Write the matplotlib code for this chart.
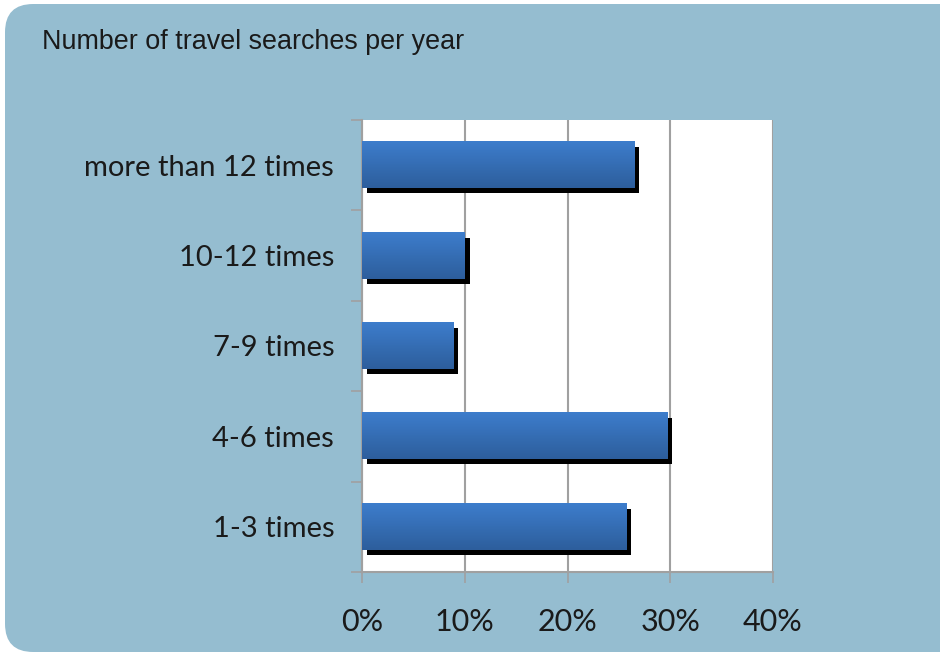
import numpy as np
import matplotlib.pyplot as plt
from matplotlib.patches import FancyBboxPatch
from matplotlib.colors import LinearSegmentedColormap
from matplotlib import transforms

# survey answers, bottom to top
categories = ["1-3 times", "4-6 times", "7-9 times", "10-12 times", "more than 12 times"]
shares = [25.7, 29.7, 8.9, 10.0, 26.5]
xticks = [0, 10, 20, 30, 40]
xticklabels = ["0%", "10%", "20%", "30%", "40%"]

panel_color = "#95bdd0"
grid_color = "#a0a0a0"
label_font = ["Lato", "DejaVu Sans"]

fig = plt.figure(figsize=(9.4, 6.56), dpi=100)
fig.patch.set_facecolor("white")

# rounded light blue panel behind everything
panel = FancyBboxPatch((5 / 940, 4 / 656), 1.2, 648 / 656,
                       boxstyle="round,pad=0,rounding_size=0.03",
                       transform=fig.transFigure, facecolor=panel_color,
                       edgecolor="none", zorder=-10, mutation_aspect=940 / 656)
fig.patches.append(panel)

fig.text(42 / 940, 1 - 42 / 656, "Number of travel searches per year",
         fontsize=19.4, family=["Liberation Sans Narrow", "Liberation Sans", "DejaVu Sans"],
         va="center", ha="left", color="#1a1a1a")

ax = fig.add_axes([362 / 940, 1 - 572 / 656, 411 / 940, 452 / 656])
ax.set_facecolor("white")

ypos = np.arange(len(categories))
bar_h = 0.51

# drop shadow: same bars shifted a few pixels right and down
shadow_tf = ax.transData + transforms.ScaledTranslation(5 / 100, -5 / 100, fig.dpi_scale_trans)
ax.barh(ypos, shares, height=bar_h, color="black", transform=shadow_tf, zorder=3)

# vertical gradient fill for each bar, lighter on top
grad = np.linspace(0, 1, 64).reshape(-1, 1)
cmap = LinearSegmentedColormap.from_list("bar", ["#3d7dcc", "#2d5e9c"])
bars = ax.barh(ypos, shares, height=bar_h, color="none", zorder=4)
for b in bars:
    x0, y0 = b.get_x(), b.get_y()
    w, h = b.get_width(), b.get_height()
    ax.imshow(grad, cmap=cmap, aspect="auto", extent=(x0, x0 + w, y0, y0 + h),
              origin="upper", zorder=4, interpolation="bilinear")
ax.set_xlim(0, 40)
ax.set_ylim(-0.5, len(categories) - 0.5)

ax.set_xticks(xticks)
ax.set_xticklabels(xticklabels, fontsize=22, family=label_font, color="#1a1a1a")
ax.set_yticks(ypos)
ax.set_yticklabels(categories, fontsize=21, family=label_font, color="#1a1a1a")
ax.set_yticks(np.arange(-0.5, len(categories)), minor=True)

ax.xaxis.grid(True, color=grid_color, linewidth=1.5, zorder=1)
ax.set_axisbelow(True)
ax.tick_params(axis="y", which="major", length=0, pad=20)
ax.tick_params(axis="y", which="minor", length=8, width=1.2, color=grid_color)
ax.tick_params(axis="x", length=8, width=1.2, color=grid_color, pad=18)

for side in ["top", "right"]:
    ax.spines[side].set_visible(False)
for side in ["left", "bottom"]:
    ax.spines[side].set_color(grid_color)
    ax.spines[side].set_linewidth(1.5)

fig.savefig("out.png", dpi=100, facecolor=fig.get_facecolor())
